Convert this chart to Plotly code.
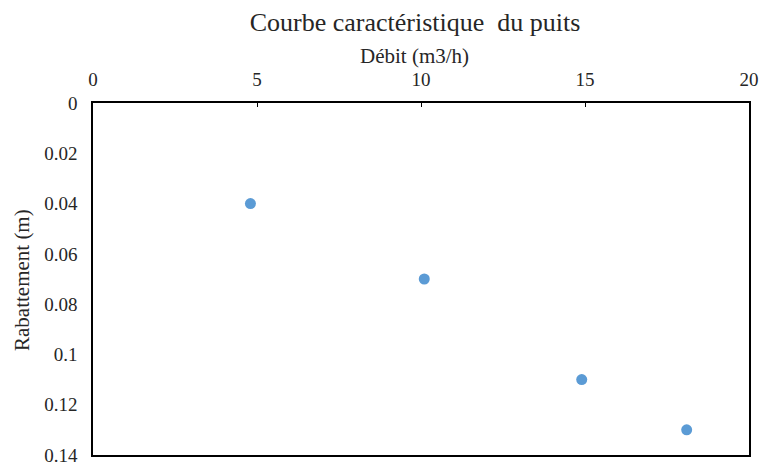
import plotly.graph_objects as go

# Pumping test: flow rate vs drawdown
debit = [4.8, 10.1, 14.9, 18.1]          # m3/h
rabattement = [0.04, 0.07, 0.11, 0.13]   # m
x_ticks = [0, 5, 10, 15, 20]
y_ticks = [0, 0.02, 0.04, 0.06, 0.08, 0.1, 0.12, 0.14]

FONT = "Liberation Serif, Times New Roman, serif"
TEXT = "#262626"
W, H = 761, 468

fig = go.Figure(
    go.Scatter(
        x=debit,
        y=rabattement,
        mode="markers",
        marker=dict(color="#5B9BD5", size=11),
        showlegend=False,
    )
)

fig.update_layout(
    width=W,
    height=H,
    margin=dict(l=93, r=12, t=103, b=13),
    paper_bgcolor="white",
    plot_bgcolor="white",
    font=dict(family=FONT, size=19, color=TEXT),
    title=dict(
        text="Courbe caractéristique  du puits",
        font=dict(family=FONT, size=26, color=TEXT),
        x=415 / W,
        xanchor="center",
        y=1 - 22 / H,
        yanchor="middle",
    ),
    annotations=[
        dict(
            text="Débit (m3/h)",
            xref="paper", yref="paper",
            x=(414 - 93) / (749 - 93), y=(455 - 56) / (455 - 103),
            xanchor="center", yanchor="middle",
            showarrow=False,
            font=dict(family=FONT, size=21, color=TEXT),
        ),
        dict(
            text="Rabattement (m)",
            xref="paper", yref="paper",
            x=(22 - 93) / (749 - 93), y=(455 - 280) / (455 - 103),
            xanchor="center", yanchor="middle",
            textangle=-90,
            showarrow=False,
            font=dict(family=FONT, size=21, color=TEXT),
        ),
    ],
)

fig.update_xaxes(
    side="top",
    range=[0, 20],
    tickvals=x_ticks,
    ticks="inside",
    ticklen=4,
    tickcolor="black",
    ticklabelstandoff=8,
    showgrid=False,
    zeroline=False,
    showline=True,
    linecolor="black",
    linewidth=1.5,
    mirror=True,
    automargin=False,
    tickfont=dict(size=19),
)

fig.update_yaxes(
    range=[0.14, 0],
    tickvals=y_ticks,
    ticks="",
    ticklabelstandoff=10,
    showgrid=False,
    zeroline=False,
    showline=True,
    linecolor="black",
    linewidth=1.5,
    mirror=True,
    automargin=False,
    tickfont=dict(size=19),
)

fig.write_html("out.html")
